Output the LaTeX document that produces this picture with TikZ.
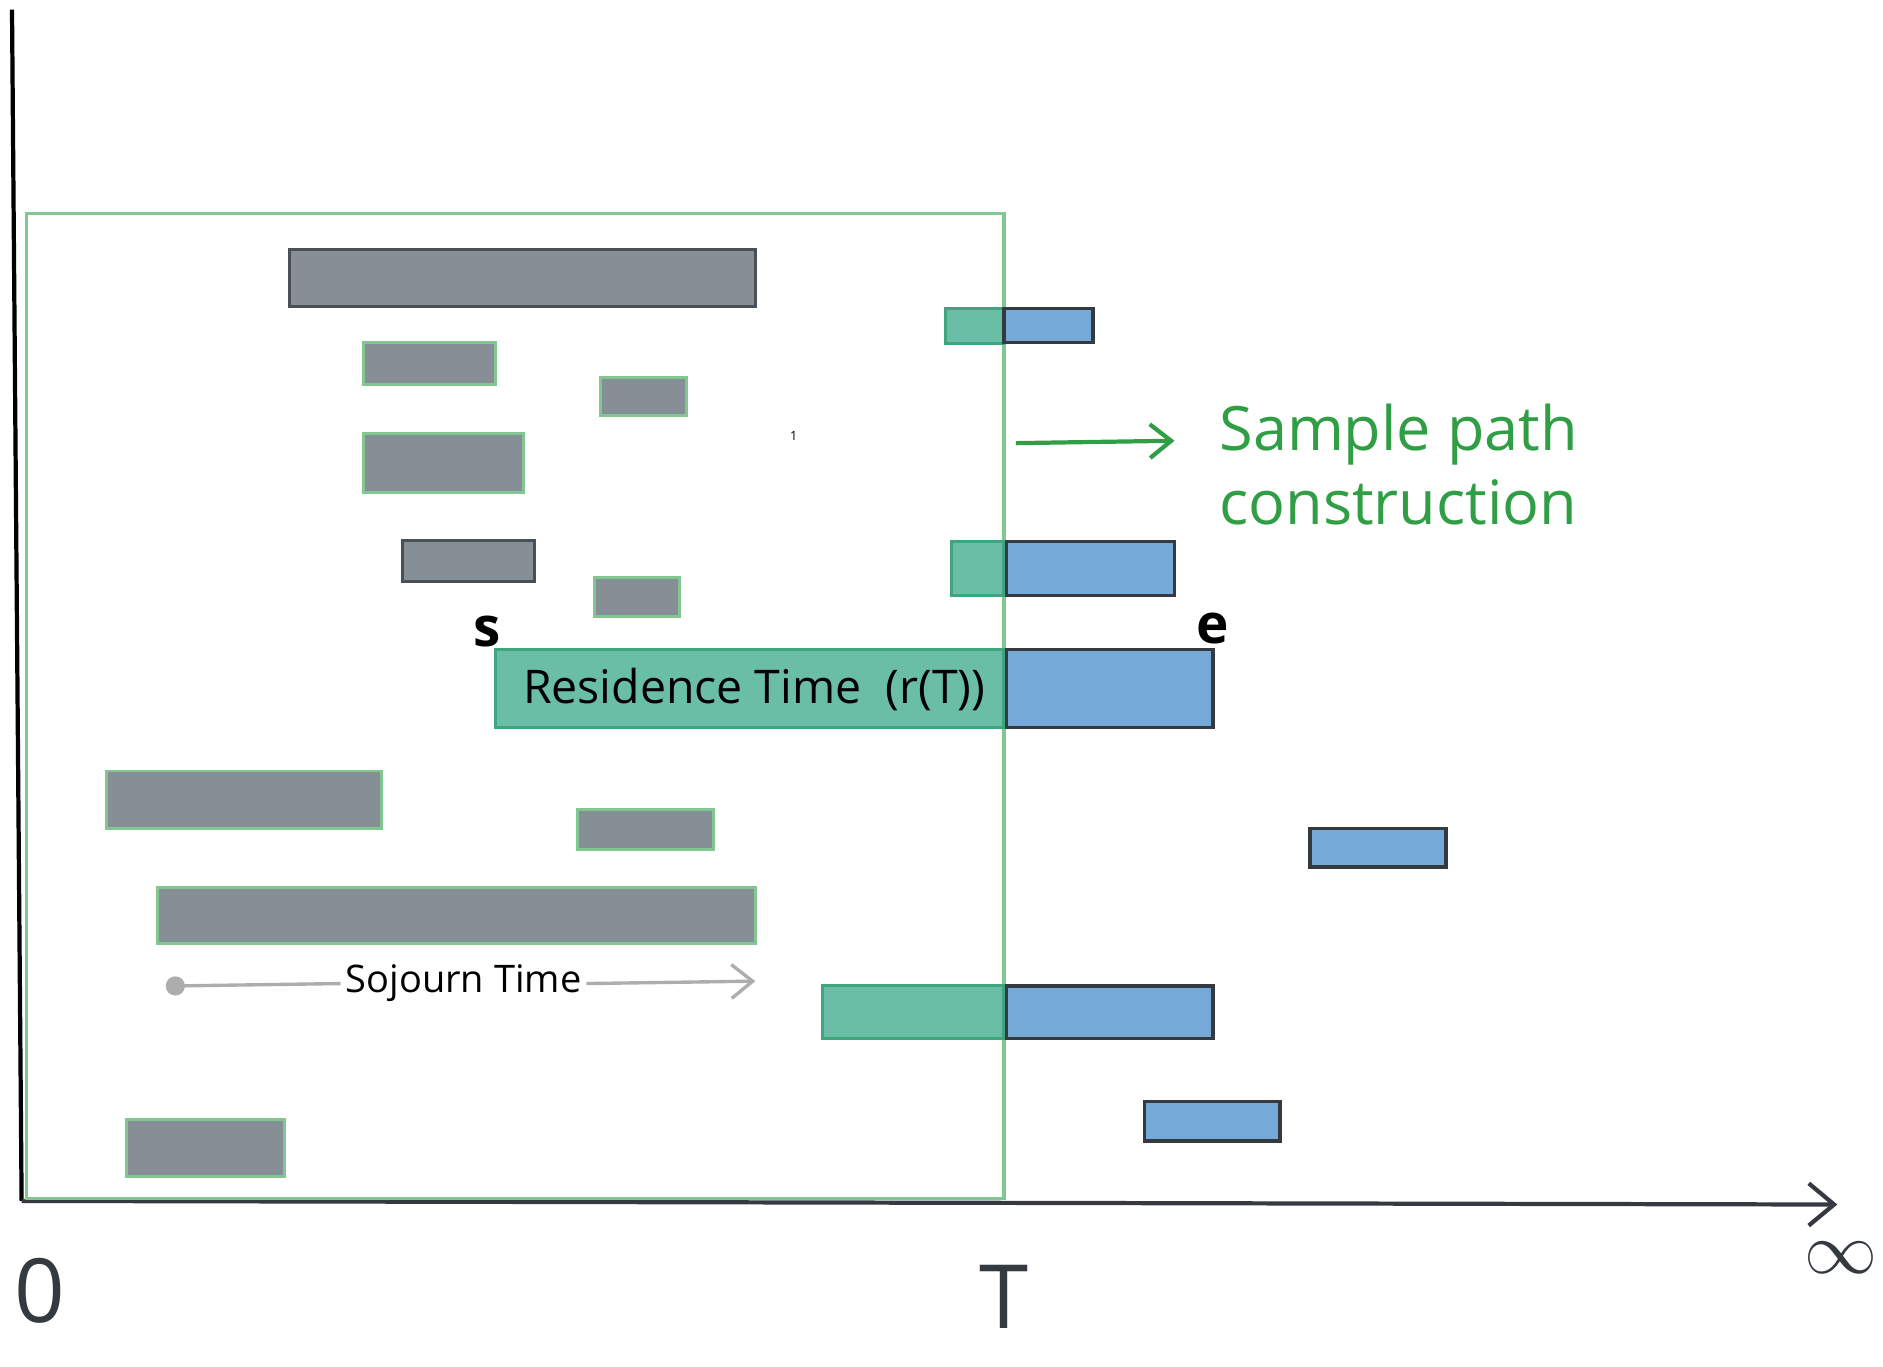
\documentclass[tikz,border=0pt]{standalone}
\usepackage{fontspec}
\setmainfont{Open Sans}
\usetikzlibrary{arrows.meta}
\definecolor{barfill}{HTML}{868E96}
\definecolor{bardraw}{HTML}{495057}
\definecolor{framegreen}{HTML}{82C791}
\definecolor{tealfill}{HTML}{6ABEA5}
\definecolor{tealdraw}{HTML}{3FA57E}
\definecolor{bluefill}{HTML}{74A9D8}
\definecolor{bluedraw}{HTML}{343A40}
\definecolor{axisgray}{HTML}{343A40}
\definecolor{notegreen}{HTML}{2F9E44}
\definecolor{sojgray}{HTML}{ADADAD}
\tikzset{
  job/.style={fill=barfill,draw=bardraw,line width=0.7pt},
  injob/.style={job,draw=framegreen},
  cutjob/.style={fill=tealfill,draw=tealdraw,line width=0.7pt},
  tailjob/.style={fill=bluefill,draw=bluedraw,line width=0.8pt},
}
\begin{document}
\begin{tikzpicture}[x=0.1mm,y=-0.1mm]
\useasboundingbox (0,0) rectangle (1568,1138);
% axes
\draw[line width=1pt](10,8)--(18,1000);
\draw[line width=1pt,axisgray,-{Straight Barb[length=6pt,width=10pt]}](18,1000)--(1530,1003);
% window [0,T]
\draw[framegreen,line width=0.8pt](22,178) rectangle (836,998);
% jobs that end before T
\draw[job](241,208) rectangle (629,255);
\draw[injob](303,285) rectangle (413,320);
\draw[injob](500,314) rectangle (572,346);
\draw[injob](303,361) rectangle (436,410);
\draw[job](335,450) rectangle (445,484);
\draw[injob](495,481) rectangle (566,513);
\draw[injob](89,642) rectangle (318,690);
\draw[injob](481,674) rectangle (594,707);
\draw[injob](131,739) rectangle (629,786);
\draw[injob](105,932) rectangle (237,980);
% jobs cut at T
\draw[cutjob](787,257) rectangle (836,286);
\draw[tailjob](836,257) rectangle (910,285);
\draw[cutjob](792,451) rectangle (836,496);
\draw[tailjob](838,451) rectangle (978,496);
\draw[cutjob](413,541) rectangle (836,606);
\draw[tailjob](838,541) rectangle (1010,606);
\draw[cutjob](685,821) rectangle (836,865);
\draw[tailjob](838,821) rectangle (1010,865);
% jobs after T
\draw[tailjob](1091,690) rectangle (1204,722);
\draw[tailjob](953,917) rectangle (1066,950);
% labels
\node[font=\fontsize{11}{13}\selectfont] (res) at (628,574) {Residence Time\ \ (r(T))};
\node[font=\fontsize{13}{15}\selectfont\bfseries] (s) at (406,526) {s};
\node[font=\fontsize{13}{15}\selectfont\bfseries] (e) at (1010,523) {e};
\node[font=\fontsize{21}{25}\selectfont,axisgray] (zero) at (33,1075) {0};
\node[font=\fontsize{21}{25}\selectfont,axisgray] (T) at (836,1080) {T};
\node[font=\fontsize{16}{20}\selectfont,axisgray] (inf) at (1533,1047) {$\infty$};
\node[font=\fontsize{3}{4}\selectfont] (one) at (661,363) {1};
\node[font=\fontsize{14.5}{17.6}\selectfont,notegreen,align=left,anchor=west] (sample) at (1003,387) {Sample path\\construction};
\coordinate (pathfrom) at (846,369);
\coordinate (pathto) at (978,367);
\draw[notegreen,line width=1pt,-{Straight Barb[length=5pt,width=8pt]}](pathfrom)--(pathto);
% sojourn time
\node[font=\fontsize{9}{11}\selectfont,inner sep=1pt] (soj) at (386,819) {Sojourn Time};
\coordinate (sojstart) at (146,821);
\coordinate (sojend) at (629,817);
\fill[sojgray](sojstart) circle (0.8mm);
\draw[sojgray,line width=0.8pt](sojstart)--(soj.west);
\draw[sojgray,line width=0.8pt,-{Straight Barb[length=5pt,width=8pt]}](soj.east)--(sojend);
\end{tikzpicture}
\end{document}
